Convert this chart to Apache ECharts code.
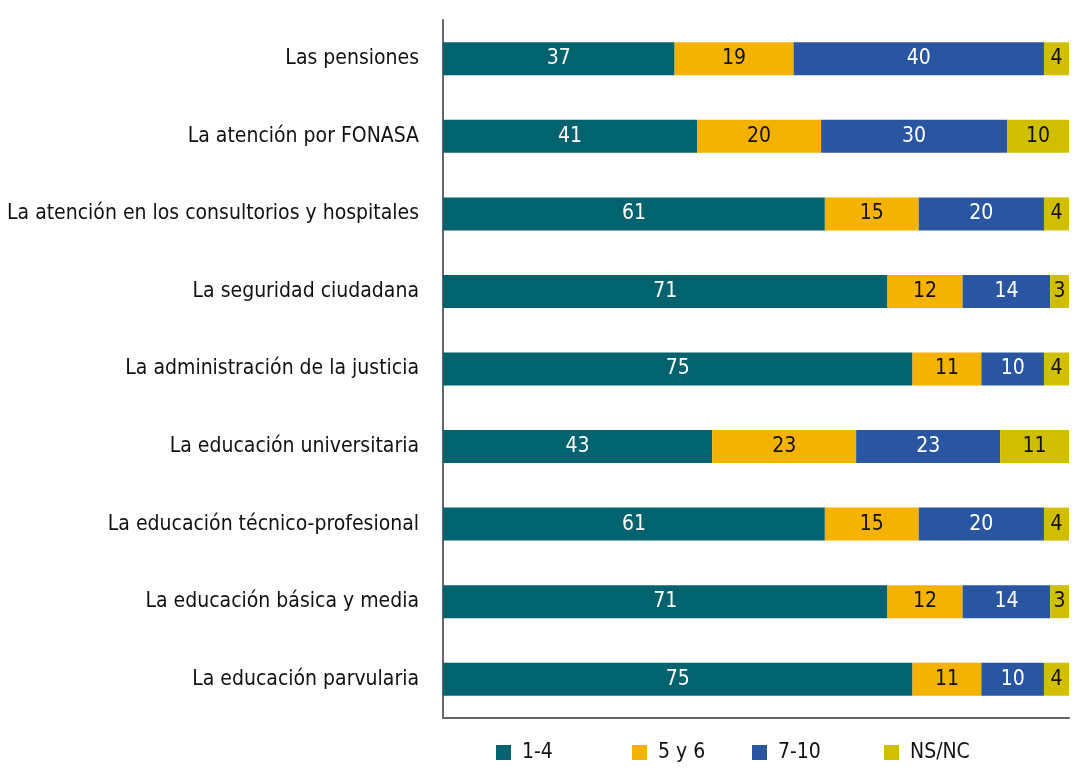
<!DOCTYPE html>
<html>
<head>
<meta charset="utf-8">
<script src="https://cdn.jsdelivr.net/npm/echarts@6/dist/echarts.min.js"></script>
<style>
  html, body { margin: 0; padding: 0; background: #fff; }
  #chart { width: 1072px; height: 770px; }
</style>
</head>
<body>
<div id="chart"></div>
<script>
// categorías, de arriba hacia abajo
const categories = [
  'Las pensiones',
  'La atención por FONASA',
  'La atención en los consultorios y hospitales',
  'La seguridad ciudadana',
  'La administración de la justicia',
  'La educación universitaria',
  'La educación técnico-profesional',
  'La educación básica y media',
  'La educación parvularia'
]

const seriesNames = ['1-4', '5 y 6', '7-10', 'NS/NC']
const colors = ['#02636f', '#f5b300', '#2a55a0', '#cfbf00']
const labelColors = ['#fff', '#111', '#fff', '#111']

const vals14 = [37, 41, 61, 71, 75, 43, 61, 71, 75]
const vals56 = [19, 20, 15, 12, 11, 23, 15, 12, 11]
const vals710 = [40, 30, 20, 14, 10, 23, 20, 14, 10]
const valsNs = [4, 10, 4, 3, 4, 11, 4, 3, 4]

const raw = [vals14, vals56, vals710, valsNs]
const totals = categories.map((_, i) => raw.reduce((s, arr) => s + arr[i], 0))

const FONT = '"Liberation Sans Narrow", "DejaVu Sans Condensed", "Roboto", sans-serif'

const chart = echarts.init(document.getElementById('chart'))

// cada barra llena el 100%, la etiqueta muestra el valor original
const series = raw.map((arr, k) => ({
  name: seriesNames[k],
  type: 'bar',
  stack: 'total',
  barWidth: 33,
  itemStyle: { color: colors[k] },
  label: {
    show: true,
    position: 'inside',
    color: labelColors[k],
    fontFamily: FONT,
    fontSize: 21,
    formatter: p => arr[p.dataIndex]
  },
  data: arr.map((v, i) => v / totals[i] * 100)
}))

const legendLeft = [491, 627, 747, 879]
const legends = seriesNames.map((n, k) => ({
  data: [n],
  left: legendLeft[k],
  top: 737,
  itemWidth: 15,
  itemHeight: 15,
  icon: 'rect',
  selectedMode: false,
  textStyle: { fontFamily: FONT, fontSize: 21, color: '#111', padding: [0, 0, 0, 6] }
}))

chart.setOption({
  animation: false,
  legend: legends,
  grid: { left: 443, right: 3, top: 20, bottom: 52 },
  xAxis: {
    type: 'value',
    min: 0,
    max: 100,
    axisLine: { show: true, lineStyle: { color: '#666', width: 2 } },
    axisTick: { show: false },
    axisLabel: { show: false },
    splitLine: { show: false }
  },
  yAxis: {
    type: 'category',
    inverse: true,
    data: categories,
    axisLine: { show: true, lineStyle: { color: '#666', width: 2 } },
    axisTick: { show: false },
    axisLabel: { color: '#111', fontFamily: FONT, fontSize: 21, margin: 24 }
  },
  series: series
})
</script>
</body>
</html>
